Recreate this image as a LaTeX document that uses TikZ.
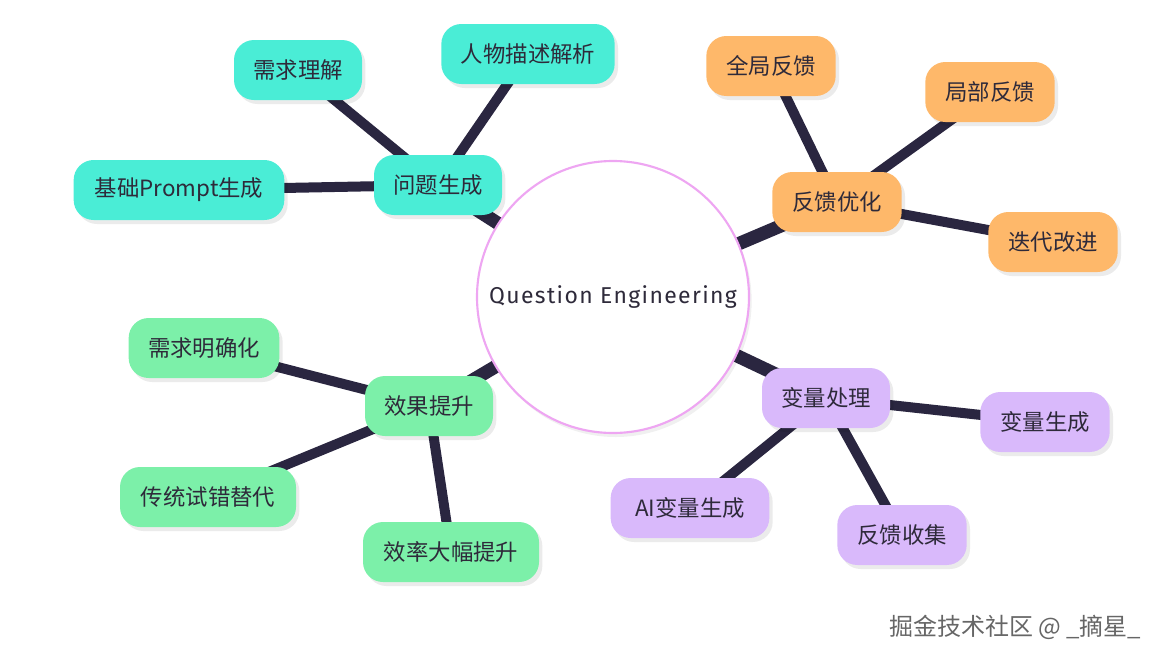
\documentclass[tikz,border=0pt]{standalone}
\usepackage{fontspec}
\setmainfont{Fira Sans}
\newfontfamily\cjk{Noto Sans CJK SC}
\usetikzlibrary{shadows,backgrounds}
\definecolor{teal1}{HTML}{4AEDD6}
\definecolor{orange1}{HTML}{FEB86A}
\definecolor{green1}{HTML}{7CF0A9}
\definecolor{purple1}{HTML}{D9B9FB}
\definecolor{edgec}{HTML}{2A2640}
\definecolor{ringc}{HTML}{EEA6F2}
\definecolor{txtc}{HTML}{2E2A3A}
\tikzset{
  box/.style={rounded corners=15pt, minimum height=45pt, minimum width=#1,
    inner sep=0pt, text=txtc, font=\cjk\fontsize{16.8}{18}\selectfont,
    drop shadow={shadow xshift=2.5pt, shadow yshift=-3pt, fill=black, opacity=0.08}},
  tbox/.style={box=#1, fill=teal1},
  obox/.style={box=#1, fill=orange1},
  gbox/.style={box=#1, fill=green1},
  pbox/.style={box=#1, fill=purple1},
  hubedge/.style={draw=edgec, line width=10pt},
  leafedge/.style={draw=edgec, line width=7.5pt},
}
\begin{document}
\begin{tikzpicture}[x=0.75pt, y=-0.75pt]
\useasboundingbox (0,0) rectangle (1164,661);
% centre
\node[circle, draw=ringc, line width=1.6pt, fill=white, minimum size=204pt, inner sep=0pt,
  text=txtc, font=\addfontfeatures{LetterSpace=6}\fontsize{17.2}{20}\selectfont,
  drop shadow={shadow xshift=2pt, shadow yshift=-3pt, fill=black, opacity=0.06}] (ce) at (613,297) {Question Engineering};
% teal
\node[tbox=96pt] (qg) at (438,185) {问题生成};
\node[tbox=96pt] (xq) at (298,70) {需求理解};
\node[tbox=130pt] (rw) at (528,54) {人物描述解析};
\node[tbox=158pt] (jc) at (179,190) {基础Prompt生成};
% orange
\node[obox=97pt] (fk) at (837,202) {反馈优化};
\node[obox=97pt] (qj) at (771,66) {全局反馈};
\node[obox=97pt] (jb) at (990,92) {局部反馈};
\node[obox=97pt] (dd) at (1053,242) {迭代改进};
% green
\node[gbox=96pt] (xg) at (429,406) {效果提升};
\node[gbox=113pt] (mq) at (204,348) {需求明确化};
\node[gbox=132pt] (ct) at (208,497) {传统试错替代};
\node[gbox=132pt] (xl) at (451,552) {效率大幅提升};
% purple
\node[pbox=96pt] (bl) at (826,398) {变量处理};
\node[pbox=97pt] (bs) at (1045,422) {变量生成};
\node[pbox=119pt] (ai) at (690,508) {AI变量生成};
\node[pbox=97pt] (fs) at (902,535) {反馈收集};
% watermark
\node[text=black!60, font=\cjk\fontsize{18}{20}\selectfont, anchor=east] (wm) at (1146,627) {掘金技术社区 @ \_摘星\_};
\begin{scope}[on background layer]
\draw[hubedge] (ce.center) -- (qg.center);
\draw[hubedge] (ce.center) -- (fk.center);
\draw[hubedge] (ce.center) -- (xg.center);
\draw[hubedge] (ce.center) -- (bl.center);
\draw[leafedge] (qg.center) -- (xq.center);
\draw[leafedge] (qg.center) -- (rw.center);
\draw[leafedge] (qg.center) -- (jc.center);
\draw[leafedge] (fk.center) -- (qj.center);
\draw[leafedge] (fk.center) -- (jb.center);
\draw[leafedge] (fk.center) -- (dd.center);
\draw[leafedge] (xg.center) -- (mq.center);
\draw[leafedge] (xg.center) -- (ct.center);
\draw[leafedge] (xg.center) -- (xl.center);
\draw[leafedge] (bl.center) -- (bs.center);
\draw[leafedge] (bl.center) -- (ai.center);
\draw[leafedge] (bl.center) -- (fs.center);
\end{scope}
\end{tikzpicture}
\end{document}
